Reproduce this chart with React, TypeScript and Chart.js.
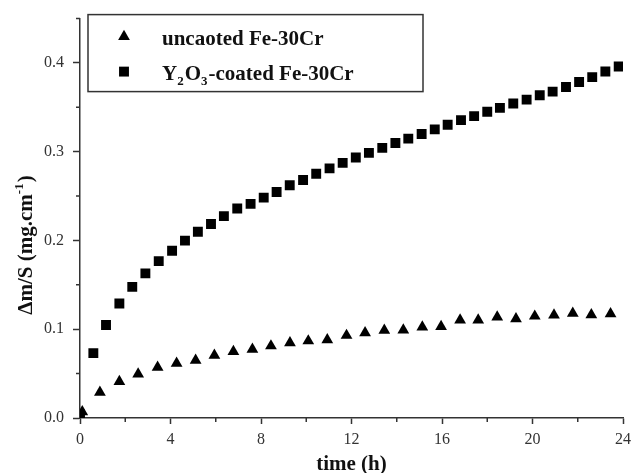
import React, { useEffect, useRef } from 'react';
import { Chart, registerables } from 'chart.js';

Chart.register(...registerables);

// ---- data ----
const uncoatedTime = [0.1, 0.88, 1.74, 2.57, 3.43, 4.27, 5.11, 5.94, 6.78, 7.62, 8.44, 9.28, 10.09, 10.93, 11.78, 12.6, 13.45, 14.29, 15.13, 15.96, 16.8, 17.6, 18.44, 19.27, 20.1, 20.95, 21.78, 22.6, 23.45];
const uncoatedGain = [0.007, 0.029, 0.041, 0.0495, 0.057, 0.0615, 0.065, 0.0707, 0.0748, 0.0774, 0.0812, 0.0846, 0.0868, 0.088, 0.093, 0.096, 0.0987, 0.099, 0.1025, 0.103, 0.1103, 0.1103, 0.1136, 0.1117, 0.1147, 0.1159, 0.118, 0.1162, 0.1173];
const coatedTime = [0.0, 0.59, 1.15, 1.74, 2.31, 2.89, 3.48, 4.07, 4.64, 5.21, 5.79, 6.36, 6.95, 7.54, 8.12, 8.69, 9.27, 9.86, 10.44, 11.03, 11.61, 12.19, 12.77, 13.36, 13.94, 14.51, 15.1, 15.68, 16.25, 16.84, 17.42, 18.0, 18.56, 19.15, 19.74, 20.32, 20.89, 21.48, 22.06, 22.64, 23.22, 23.81];
const coatedGain = [0.004, 0.0731, 0.1048, 0.129, 0.1477, 0.163, 0.1768, 0.1884, 0.1999, 0.2098, 0.2186, 0.2275, 0.236, 0.2413, 0.2483, 0.2547, 0.2622, 0.2681, 0.2752, 0.2812, 0.2875, 0.2935, 0.2987, 0.3043, 0.3098, 0.3148, 0.32, 0.3252, 0.3304, 0.3356, 0.3401, 0.345, 0.3494, 0.3543, 0.3587, 0.3636, 0.3677, 0.373, 0.3785, 0.3841, 0.3904, 0.396];

const xMajorTicks = [0, 4, 8, 12, 16, 20, 24];
const xMinorTicks = [2, 6, 10, 14, 18, 22];
const yMajorTicks = [0, 0.1, 0.2, 0.3, 0.4];
const yMinorTicks = [0.05, 0.15, 0.25, 0.35, 0.45];

const xTitle = 'time (h)';
// y title pieces: [text, 'sup' | '']
const yTitleParts: [string, string][] = [['Δm/S (mg.cm', ''], ['-1', 'sup'], [')', '']];
const uncoatedLabel: [string, string][] = [['uncaoted Fe-30Cr', '']];
const coatedLabel: [string, string][] = [['Y', ''], ['2', 'sub'], ['O', ''], ['3', 'sub'], ['-coated Fe-30Cr', '']];

const FONT = "'Liberation Serif', 'Times New Roman', serif";
const AXIS_COLOR = '#333';
const MARK_COLOR = '#000';

function drawRich(ctx: CanvasRenderingContext2D, parts: [string, string][], x: number, y: number, size: number, measureOnly = false): number {
  let cx = x;
  for (const [t, kind] of parts) {
    const s = kind ? Math.round(size * 0.62) : size;
    ctx.font = `bold ${s}px ${FONT}`;
    const dy = kind === 'sup' ? -size * 0.42 : kind === 'sub' ? size * 0.28 : 0;
    if (!measureOnly) ctx.fillText(t, cx, y + dy);
    cx += ctx.measureText(t).width + (kind ? 1 : 0);
  }
  return cx - x;
}

function drawMarker(ctx: CanvasRenderingContext2D, style: string, x: number, y: number, r: number) {
  ctx.beginPath();
  if (style === 'triangle') {
    const w = r * Math.sin(Math.PI / 3);
    ctx.moveTo(x, y - r);
    ctx.lineTo(x + w, y + r / 2);
    ctx.lineTo(x - w, y + r / 2);
    ctx.closePath();
  } else {
    const h = r * Math.SQRT1_2;
    ctx.rect(x - h, y - h, 2 * h, 2 * h);
  }
  ctx.fillStyle = MARK_COLOR;
  ctx.fill();
}

const decorPlugin = {
  id: 'decor',
  afterDraw(chart: any) {
    const ctx: CanvasRenderingContext2D = chart.ctx;
    const ca = chart.chartArea;
    const xs = chart.scales.x;
    const ys = chart.scales.y;
    ctx.save();
    // minor ticks
    ctx.strokeStyle = AXIS_COLOR;
    ctx.lineWidth = 1.5;
    ctx.beginPath();
    for (const v of xMinorTicks) {
      const px = xs.getPixelForValue(v);
      ctx.moveTo(px, ca.bottom);
      ctx.lineTo(px, ca.bottom + 4);
    }
    for (const v of yMinorTicks) {
      const py = ys.getPixelForValue(v);
      ctx.moveTo(ca.left, py);
      ctx.lineTo(ca.left - 4, py);
    }
    ctx.stroke();

    // y title
    ctx.fillStyle = '#111';
    ctx.textBaseline = 'alphabetic';
    ctx.textAlign = 'left';
    const ySize = 21;
    const w = drawRich(ctx, yTitleParts, 0, 0, ySize, true);
    ctx.save();
    ctx.translate(32, 245);
    ctx.rotate(-Math.PI / 2);
    drawRich(ctx, yTitleParts, -w / 2, 0, ySize);
    ctx.restore();

    // legend box
    const bx = ca.left + 8;
    const by = ca.top - 4;
    const bw = 335;
    const bh = 77;
    ctx.strokeStyle = AXIS_COLOR;
    ctx.lineWidth = 1.5;
    ctx.strokeRect(bx, by, bw, bh);
    drawMarker(ctx, 'triangle', bx + 36, by + 22, 6.8);
    drawMarker(ctx, 'rect', bx + 36, by + 57, 7);
    ctx.fillStyle = '#111';
    drawRich(ctx, uncoatedLabel, bx + 74, by + 30, 21);
    drawRich(ctx, coatedLabel, bx + 74, by + 65, 21);
    ctx.restore();
  },
};

export default function App() {
  const ref = useRef<HTMLCanvasElement | null>(null);
  useEffect(() => {
    if (!ref.current) return;
    const chart = new Chart(ref.current, {
      type: 'scatter',
      data: {
        datasets: [
          {
            label: 'uncaoted Fe-30Cr',
            data: uncoatedTime.map((t, i) => ({ x: t, y: uncoatedGain[i] })),
            pointStyle: 'triangle',
            pointRadius: 6.8,
            backgroundColor: MARK_COLOR,
            borderWidth: 0,
            showLine: false,
          },
          {
            label: 'Y2O3-coated Fe-30Cr',
            data: coatedTime.map((t, i) => ({ x: t, y: coatedGain[i] })),
            pointStyle: 'rect',
            pointRadius: 7,
            backgroundColor: MARK_COLOR,
            borderWidth: 0,
            showLine: false,
          },
        ],
      },
      options: {
        animation: false,
        responsive: false,
        devicePixelRatio: 1,
        layout: { padding: { top: 15, right: 10, left: 0, bottom: 0 } },
        plugins: { legend: { display: false }, tooltip: { enabled: false } },
        scales: {
          x: {
            type: 'linear',
            min: 0,
            max: 24,
            afterBuildTicks: (s: any) => { s.ticks = xMajorTicks.map((value) => ({ value })); },
            afterFit: (s: any) => { s.height = 55; s.paddingRight = 0; s.paddingLeft = 0; },
            ticks: { font: { family: FONT, size: 16 }, color: AXIS_COLOR, padding: 6, maxRotation: 0 },
            grid: { display: true, drawOnChartArea: false, drawTicks: true, tickLength: 6, tickColor: AXIS_COLOR, tickWidth: 1.5 },
            border: { display: true, color: AXIS_COLOR, width: 1.5 },
            title: { display: true, text: xTitle, font: { family: FONT, size: 21, weight: 'bold', lineHeight: 0.8 }, color: '#111', padding: { top: 0, bottom: 0 } },
          },
          y: {
            type: 'linear',
            min: 0,
            max: 0.45,
            afterBuildTicks: (s: any) => { s.ticks = yMajorTicks.map((value) => ({ value })); },
            afterFit: (s: any) => { s.width = 80; },
            ticks: { font: { family: FONT, size: 16 }, color: AXIS_COLOR, padding: 9, callback: (v: any) => Number(v).toFixed(1) },
            grid: { display: true, drawOnChartArea: false, drawTicks: true, tickLength: 7, tickColor: AXIS_COLOR, tickWidth: 1.5 },
            border: { display: true, color: AXIS_COLOR, width: 1.5 },
          },
        },
      },
      plugins: [decorPlugin],
    } as any);
    return () => chart.destroy();
  }, []);
  return (
    <div style={{ position: 'fixed', left: 0, top: 0, width: 633, height: 473, background: '#fff' }}>
      <canvas ref={ref} width={633} height={473} />
    </div>
  );
}
